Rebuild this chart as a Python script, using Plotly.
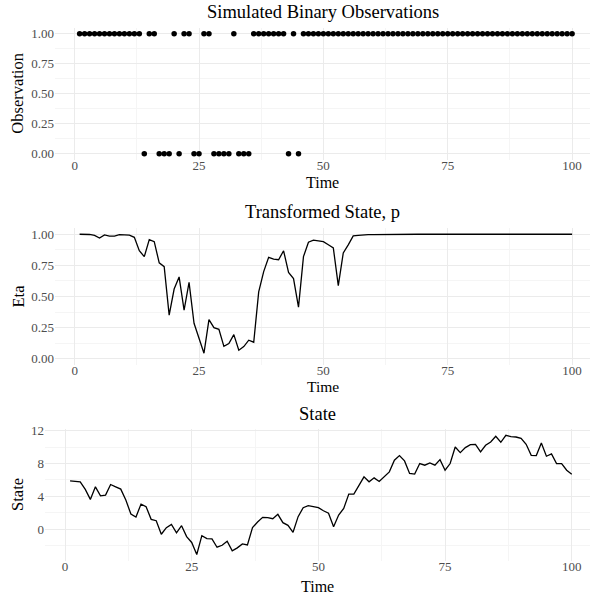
import plotly.graph_objects as go

time = list(range(1, 101))

zero_times = [14, 17, 18, 19, 21, 24, 25, 28, 29, 30, 31, 33, 34, 35, 43, 45]
observations = [0 if t in zero_times else 1 for t in time]

eta = [1.0, 1.0, 0.998, 0.99, 0.97, 0.995, 0.985, 0.985, 0.996, 0.995,
       0.993, 0.975, 0.867, 0.82, 0.957, 0.94, 0.77, 0.74, 0.35, 0.56,
       0.657, 0.39, 0.614, 0.285, 0.17, 0.045, 0.314, 0.25, 0.237, 0.10,
       0.122, 0.194, 0.069, 0.098, 0.149, 0.133, 0.537, 0.70, 0.814, 0.80,
       0.795, 0.867, 0.694, 0.644, 0.415, 0.82, 0.936, 0.952, 0.947, 0.94,
       0.915, 0.89, 0.588, 0.85, 0.915, 0.987, 0.99, 0.995, 0.997, 0.997,
       0.998, 0.997, 0.998, 0.999, 1.0, 1.0, 1.0, 1.0, 1.0, 1.0,
       1.0, 1.0, 1.0, 1.0, 1.0, 1.0, 1.0, 1.0, 1.0, 1.0,
       1.0, 1.0, 1.0, 1.0, 1.0, 1.0, 1.0, 1.0, 1.0, 1.0,
       1.0, 1.0, 1.0, 1.0, 1.0, 1.0, 1.0, 1.0, 1.0, 1.0]

state = [5.9, 5.86, 5.78, 4.85, 3.64, 5.17, 4.08, 4.16, 5.45, 5.17,
         4.89, 3.56, 1.86, 1.5, 3.07, 2.75, 1.21, 1.05, -0.6, 0.2,
         0.6, -0.44, 0.44, -0.89, -1.6, -3.07, -0.77, -1.13, -1.17, -2.18,
         -1.94, -1.45, -2.63, -2.26, -1.78, -1.9, 0.2, 0.89, 1.45, 1.41,
         1.29, 1.82, 0.81, 0.48, -0.36, 1.54, 2.63, 2.87, 2.75, 2.63,
         2.26, 1.96, 0.32, 1.74, 2.55, 4.28, 4.28, 5.25, 6.38, 5.78,
         6.26, 5.82, 6.38, 6.99, 8.4, 8.97, 8.32, 6.79, 6.71, 8.0,
         7.8, 8.08, 7.8, 8.48, 7.19, 8.0, 10.02, 9.33, 9.94, 10.3,
         10.34, 9.41, 10.22, 10.63, 11.31, 10.59, 11.43, 11.27, 11.23, 11.07,
         10.34, 9.0, 8.97, 10.5, 8.89, 9.17, 8.0, 8.0, 7.19, 6.71]

x_ticks = [0, 25, 50, 75, 100]
obs_ticks = [0.0, 0.25, 0.5, 0.75, 1.0]
obs_ticklabels = ["0.00", "0.25", "0.50", "0.75", "1.00"]
state_ticks = [0, 4, 8, 12]

FONT = "Liberation Serif"
H = 595.0
W = 590.0

fig = go.Figure()
fig.add_trace(go.Scatter(x=time, y=observations, mode="markers",
                         marker=dict(color="black", size=5.5),
                         xaxis="x", yaxis="y", showlegend=False))
fig.add_trace(go.Scatter(x=time, y=eta, mode="lines",
                         line=dict(color="black", width=1.3),
                         xaxis="x2", yaxis="y2", showlegend=False))
fig.add_trace(go.Scatter(x=time, y=state, mode="lines",
                         line=dict(color="black", width=1.3),
                         xaxis="x3", yaxis="y3", showlegend=False))

def ydom(top, bot):
    return [1 - bot / H, 1 - top / H]

grid_major = "#EBEBEB"
grid_minor = "#F5F5F5"
tickfont = dict(family=FONT, size=13, color="#4D4D4D")

def xaxis(anchor, left_px):
    return dict(domain=[left_px / W, 1.0], anchor=anchor, range=[-3.95, 103.6],
                tickvals=x_ticks, ticktext=[str(v) for v in x_ticks],
                showgrid=True, gridcolor=grid_major, gridwidth=1.1,
                minor=dict(dtick=12.5, tick0=0, showgrid=True, gridcolor=grid_minor, gridwidth=0.8),
                zeroline=False, showline=False, ticks="", tickfont=tickfont,
                ticklabelstandoff=-4, automargin=False)

def yaxis(anchor, dom, rng, tv, tt, minor_dtick):
    return dict(domain=dom, anchor=anchor, range=rng, tickvals=tv, ticktext=tt,
                showgrid=True, gridcolor=grid_major, gridwidth=1.1,
                minor=dict(dtick=minor_dtick, tick0=0, showgrid=True, gridcolor=grid_minor, gridwidth=0.8),
                zeroline=False, showline=False, ticks="", tickfont=tickfont,
                automargin=False)

d1 = ydom(27.7, 159.7)
d2 = ydom(228.0, 365.0)
d3 = ydom(429.4, 560.5)

fig.update_layout(
    width=590, height=595,
    margin=dict(l=0, r=0, t=0, b=0),
    paper_bgcolor="white", plot_bgcolor="white",
    font=dict(family=FONT, color="black"),
    xaxis=xaxis("y", 55),
    yaxis=yaxis("x", d1, [-0.05, 1.05], obs_ticks, obs_ticklabels, 0.125),
    xaxis2=xaxis("y2", 55),
    yaxis2=yaxis("x2", d2, [-0.05, 1.05], obs_ticks, obs_ticklabels, 0.125),
    xaxis3=xaxis("y3", 45),
    yaxis3=yaxis("x3", d3, [-3.795, 12.155], state_ticks, [str(v) for v in state_ticks], 2),
)

def ann(text, x, y, size, angle=0):
    fig.add_annotation(text=text, x=x / W, y=1 - y / H, xref="paper", yref="paper",
                       showarrow=False, textangle=angle, xanchor="center", yanchor="middle",
                       font=dict(family=FONT, size=size, color="black"))

# panel titles
ann("Simulated Binary Observations", 322.5, 12, 18.5)
ann("Transformed State, p", 322.5, 212, 18.5)
ann("State", 317.5, 414, 18.5)
# x titles
ann("Time", 322.5, 182, 16)
ann("Time", 322.5, 386.5, 15.5)
ann("Time", 317.5, 586, 16)
# y titles
ann("Observation", 18, (27.7 + 159.7) / 2, 16.5, -90)
ann("Eta", 18, (228 + 365) / 2, 16.5, -90)
ann("State", 18, (429.4 + 560.5) / 2, 16.5, -90)

fig.write_html("out.html", config={"displayModeBar": False},
               post_script="document.body.style.margin='0px';document.body.style.overflow='hidden';")
